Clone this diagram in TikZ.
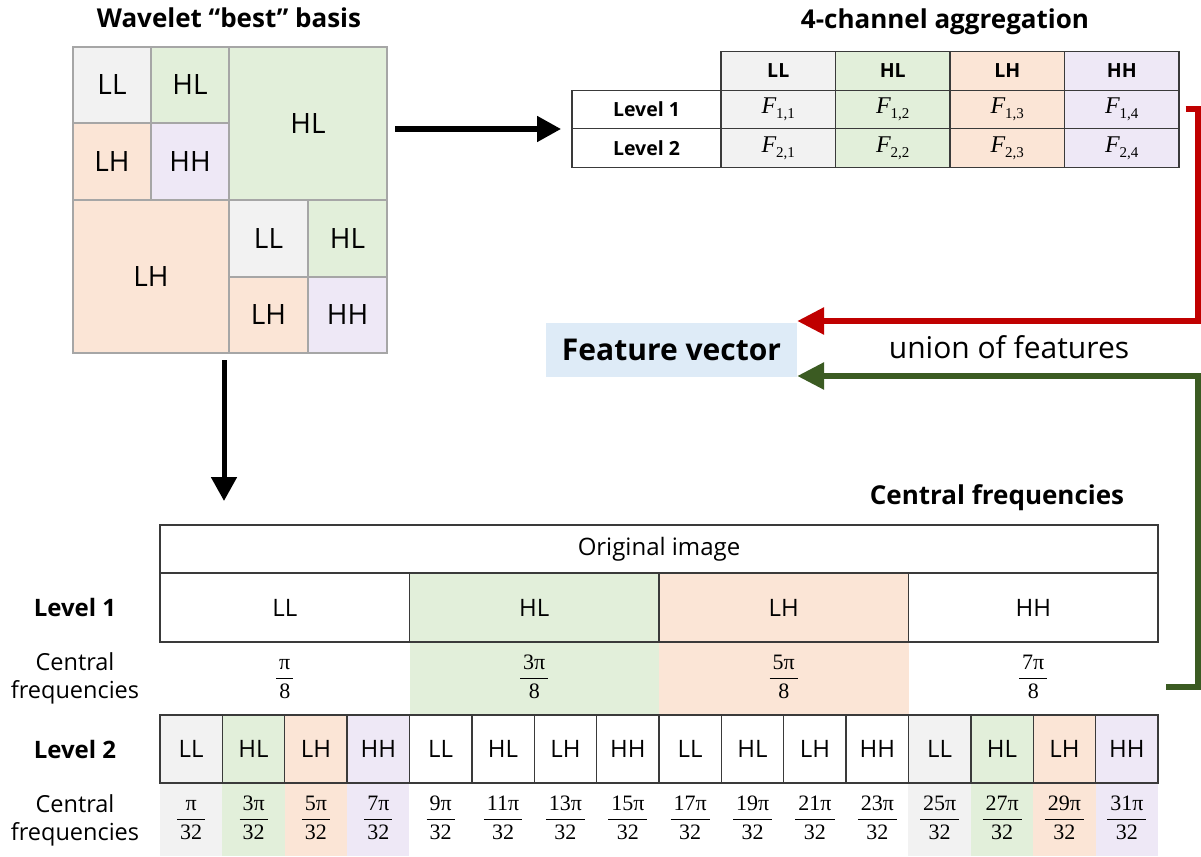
\documentclass[tikz,border=0pt]{standalone}
\usepackage{fontspec}
\setmainfont{Open Sans}
\newfontfamily\tnr{Liberation Serif}
\usetikzlibrary{arrows.meta,positioning}
\definecolor{cellgray}{HTML}{F2F2F2}
\definecolor{cellgreen}{HTML}{E2EFDA}
\definecolor{cellorange}{HTML}{FBE5D6}
\definecolor{cellpurple}{HTML}{EEE8F6}
\definecolor{featblue}{HTML}{DEEBF7}
\definecolor{wavline}{HTML}{A6A6A6}
\definecolor{tabline}{HTML}{3A3A3A}
\definecolor{unionred}{HTML}{C00000}
\definecolor{uniongreen}{HTML}{3B5B22}
\newcommand{\frq}[2]{{\tnr\fontsize{22}{28}\selectfont\setlength{\arrayrulewidth}{1pt}%
  \begin{tabular}{@{\kern3pt}c@{\kern3pt}}#1\\\hline #2\end{tabular}}}
\newcommand{\fcell}[1]{{\tnr\itshape F}\raisebox{-0.45ex}{\tnr\fontsize{15}{15}\selectfont #1}}

\begin{document}
\begin{tikzpicture}[x=1pt,y=-1pt,
    title/.style={font=\bfseries\fontsize{26}{30}\selectfont},
    wav cell/.style={draw=wavline,line width=1.8pt,inner sep=0pt,font=\fontsize{28}{30}\selectfont},
    agg cell/.style={draw=tabline,line width=1.3pt,inner sep=0pt,minimum width=114.5,minimum height=38.5,font=\tnr\fontsize{24}{25}\selectfont},
    agg lab/.style={agg cell,font=\bfseries\fontsize{19.5}{20}\selectfont},
    lvl cell/.style={draw=tabline,line width=1.3pt,inner sep=0pt,font=\fontsize{24}{28}\selectfont},
    freq cell/.style={inner sep=0pt},
    row lab/.style={align=center,font=\fontsize{23.5}{28}\selectfont},
    blk arrow/.style={-{Triangle[length=24pt,width=25pt]},line width=5pt},
    union arrow/.style={-{Triangle[length=27pt,width=26pt]},line width=6pt}]

  \useasboundingbox (0,0) rectangle (1201,856);

  % wavelet "best" basis
  \node[title] (wavT) at (229,18) {Wavelet “best” basis};
  \node[wav cell,fill=cellgray,minimum width=78,minimum height=76] (LLa) at (112,85) {LL};
  \node[wav cell,fill=cellgreen,minimum width=78,minimum height=76] (HLa) at (190,85) {HL};
  \node[wav cell,fill=cellorange,minimum width=78,minimum height=77] (LHa) at (112,161.5) {LH};
  \node[wav cell,fill=cellpurple,minimum width=78,minimum height=77] (HHa) at (190,161.5) {HH};
  \node[wav cell,fill=cellgreen,minimum width=158,minimum height=153] (HLb) at (308,123.5) {HL};
  \node[wav cell,fill=cellorange,minimum width=156,minimum height=153] (LHb) at (151,276.5) {LH};
  \node[wav cell,fill=cellgray,minimum width=79,minimum height=77] (LLc) at (268.5,238.5) {LL};
  \node[wav cell,fill=cellgreen,minimum width=79,minimum height=77] (HLc) at (347.5,238.5) {HL};
  \node[wav cell,fill=cellorange,minimum width=79,minimum height=76] (LHc) at (268.5,315) {LH};
  \node[wav cell,fill=cellpurple,minimum width=79,minimum height=76] (HHc) at (347.5,315) {HH};

  % 4-channel aggregation
  \node[title] (aggT) at (945,22) {4-channel aggregation};
  \node[agg lab,minimum width=149] (lev1) at (646.5,109.5) {Level 1};
  \node[agg lab,minimum width=149] (lev2) at (646.5,148) {Level 2};
  \foreach \lab/\col [count=\i] in {LL/cellgray,HL/cellgreen,LH/cellorange,HH/cellpurple} {
    \node[agg lab,fill=\col] (h\i) at (663.75+114.5*\i,71) {\lab};
    \node[agg cell,fill=\col] (F1\i) at (663.75+114.5*\i,109.5) {\fcell{1,\i}};
    \node[agg cell,fill=\col] (F2\i) at (663.75+114.5*\i,148) {\fcell{2,\i}};
  }

  % feature vector
  \node[fill=featblue,minimum width=251,minimum height=54,font=\bfseries\fontsize{30}{34}\selectfont] (feat) at (671.5,350) {Feature vector};
  \node[font=\fontsize{30}{34}\selectfont] (union) at (1009,347) {union of features};

  % central frequencies
  \node[title] (cfT) at (997,498) {Central frequencies};
  \node[lvl cell,minimum width=998,minimum height=48] (orig) at (659,549) {Original image};
  \foreach \lab/\col/\num [count=\i] in {LL/white/{},HL/cellgreen/3,LH/cellorange/5,HH/white/7} {
    \node[freq cell,fill=\col,minimum width=249.5,minimum height=73] (c1\i) at (35.25+249.5*\i,678.5) {\frq{\num π}{8}};
    \node[lvl cell,fill=\col,minimum width=249.5,minimum height=69] (l1\i) at (35.25+249.5*\i,607.5) {\lab};
  }
  \foreach \lab/\col/\num [count=\i] in {LL/cellgray/{},HL/cellgreen/3,LH/cellorange/5,HH/cellpurple/7,
      LL/white/9,HL/white/11,LH/white/13,HH/white/15,LL/white/17,HL/white/19,LH/white/21,HH/white/23,
      LL/cellgray/25,HL/cellgreen/27,LH/cellorange/29,HH/cellpurple/31} {
    \node[freq cell,fill=\col,minimum width=62.4,minimum height=73] (c2\i) at (128.81+62.375*\i,819.5) {\frq{\num π}{32}};
    \node[lvl cell,fill=\col,minimum width=62.375,minimum height=68] (l2\i) at (128.81+62.375*\i,749) {\lab};
  }
  \node[row lab,font=\bfseries\fontsize{24}{28}\selectfont] (rl1) at (75,607.5) {Level 1};
  \node[row lab] (rc1) at (75,678.5) {Central\\frequencies};
  \node[row lab,font=\bfseries\fontsize{24}{28}\selectfont] (rl2) at (75,749) {Level 2};
  \node[row lab] (rc2) at (75,820) {Central\\frequencies};

  % connectors
  \coordinate (wavR) at (395,129);
  \coordinate (aggL) at (561,129);
  \coordinate (wavB) at (224,360);
  \coordinate (cfTop) at (224,501);
  \coordinate (redC) at (1198,321);
  \coordinate (grnS) at (1166,687);
  \coordinate (grnC) at (1198,376);
  \draw[blk arrow] (wavR) -- (aggL);
  \draw[blk arrow] (wavB) -- (cfTop);
  \draw[union arrow,unionred] ([xshift=6pt]F14.east) -| (redC) -- (redC -| feat.east);
  \draw[union arrow,uniongreen] (grnS) -| (grnC) -- (grnC -| feat.east);
\end{tikzpicture}
\end{document}
